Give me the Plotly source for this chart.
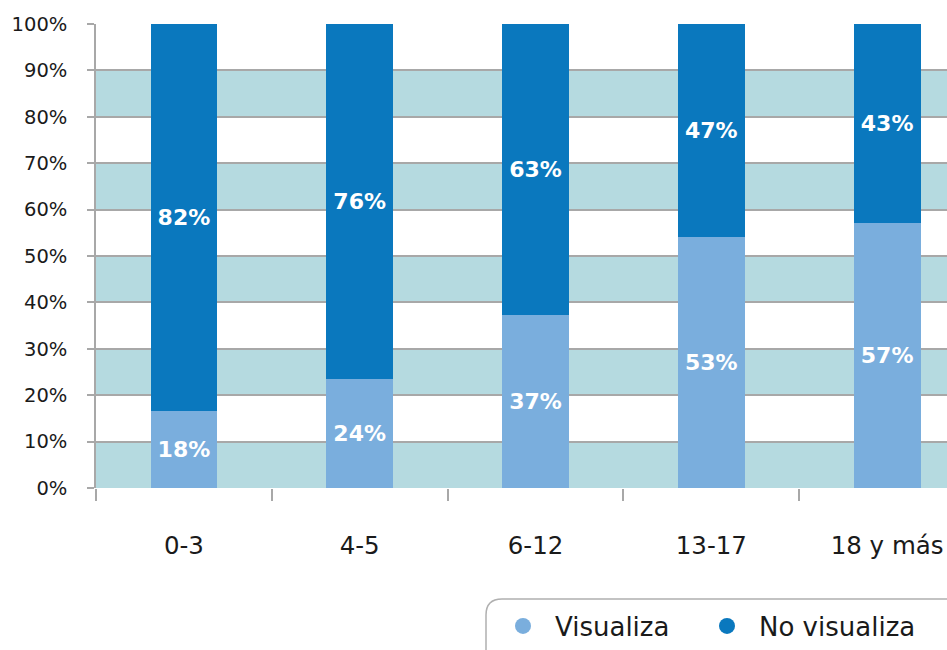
import plotly.graph_objects as go

categories = ["0-3", "4-5", "6-12", "13-17", "18 y más"]
visualiza = [16.5, 23.6, 37.3, 54.1, 57.1]
no_visualiza = [83.5, 76.4, 62.7, 45.9, 42.9]
visualiza_labels = ["18%", "24%", "37%", "53%", "57%"]
no_visualiza_labels = ["82%", "76%", "63%", "47%", "43%"]
y_ticks = [0, 10, 20, 30, 40, 50, 60, 70, 80, 90, 100]
y_tick_text = [f"{v}%" for v in y_ticks]

LIGHT = "#7aaedd"
DARK = "#0a78be"
BAND = "#b5dae0"
GRID = "#a8a8a8"
FONT = "DejaVu Sans"
TXT = "#1a1a1a"

fig = go.Figure()
for vals, labs, col in [(visualiza, visualiza_labels, LIGHT), (no_visualiza, no_visualiza_labels, DARK)]:
    fig.add_bar(x=categories, y=vals, marker_color=col, marker_line_width=0,
                text=labs, textposition="inside", insidetextanchor="middle",
                textfont=dict(color="white", size=22, family=FONT, weight="bold"),
                showlegend=False, width=0.38)
# legend entries with circle markers
fig.add_scatter(x=[None], y=[None], mode="markers", name="Visualiza", legend="legend",
                marker=dict(symbol="circle", size=22, color=LIGHT))
fig.add_scatter(x=[None], y=[None], mode="markers", name="No visualiza", legend="legend2",
                marker=dict(symbol="circle", size=22, color=DARK))

# alternating bands
shapes = []
for lo in range(0, 100, 20):
    shapes.append(dict(type="rect", xref="paper", yref="y", x0=0, x1=1, y0=lo, y1=lo + 10,
                       fillcolor=BAND, line_width=0, layer="below"))

# page-pixel -> paper helpers
W, H = 851, 464
def px(xp):
    return (xp - 96) / W
def py(yp):
    return (488 - yp) / H
x0, x1, y0, y1, r = 486, 990, 599, 680, 16
path = (f"M {px(x0)},{py(y1)} L {px(x0)},{py(y0 + r)} "
        f"Q {px(x0)},{py(y0)} {px(x0 + r)},{py(y0)} "
        f"L {px(x1)},{py(y0)}")
shapes.append(dict(type="path", xref="paper", yref="paper", path=path,
                   line=dict(color="#b0b0b0", width=1.5), fillcolor="rgba(0,0,0,0)"))

leg_common = dict(orientation="h", xanchor="left", yanchor="middle", y=py(626),
                  font=dict(size=26, family=FONT, color=TXT),
                  itemwidth=54, bgcolor="rgba(0,0,0,0)")

fig.update_layout(
    width=947, height=650,
    margin=dict(l=96, r=0, t=24, b=162, autoexpand=False),
    barmode="stack",
    plot_bgcolor="white", paper_bgcolor="white",
    font=dict(family=FONT, color=TXT),
    shapes=shapes,
    legend=dict(x=px(491), **leg_common),
    legend2=dict(x=px(695), **leg_common),
)
fig.update_xaxes(range=[-0.5, -0.5 + 851 / 175.8], showgrid=False,
                 ticks="outside", tickson="boundaries", ticklen=12, tickcolor=GRID, tickwidth=1.5,
                 tickfont=dict(size=24.5, family=FONT, color=TXT),
                 ticklabelstandoff=40, showline=False, zeroline=False)
fig.update_yaxes(range=[0, 100], tickvals=y_ticks, ticktext=y_tick_text,
                 showgrid=True, gridcolor=GRID, gridwidth=1.5,
                 ticks="outside", ticklen=7, tickcolor=GRID, tickwidth=1.5,
                 showline=True, linecolor=GRID, linewidth=1.5,
                 tickfont=dict(size=19.5, family=FONT, color=TXT),
                 ticklabelstandoff=16, zeroline=False)

fig.write_html("out.html", config={"displayModeBar": False},
               post_script="document.body.style.margin='0';document.documentElement.style.overflow='hidden';")
